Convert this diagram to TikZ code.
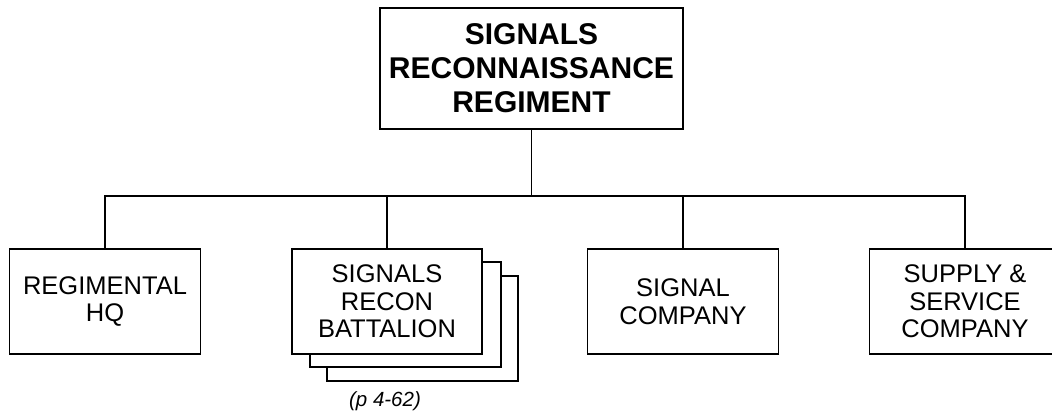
\documentclass[tikz,border=0pt]{standalone}
\usepackage{fontspec}
\setmainfont{Liberation Sans}
\begin{document}
\begin{tikzpicture}[x=1pt,y=-1pt,
  line width=1.5pt,
  unit/.style={draw, fill=white, inner sep=0pt, minimum width=191pt, minimum height=105pt,
    align=center, font=\fontsize{25.5}{27.5}\selectfont},
  topunit/.style={draw, fill=white, inner sep=0pt, minimum width=303pt, minimum height=121pt,
    align=center, font=\fontsize{30}{34}\selectfont\bfseries},
  note/.style={font=\fontsize{20.5}{24}\selectfont\itshape, inner sep=0pt}]
\clip (0,0) rectangle (1052,414);
\fill[white] (0,0) rectangle (1052,414);
\node[topunit] (top) at (531.5,68.5) {SIGNALS\\RECONNAISSANCE\\REGIMENT};
\node[unit] (hq) at (105,301.5) {REGIMENTAL\\HQ};
\node[unit, minimum width=191pt] (bat3) at (422.5,328.5) {};
\node[unit, minimum width=191pt] (bat2) at (405.5,314.5) {};
\node[unit, minimum width=190pt] (bat) at (387,301.5) {SIGNALS\\RECON\\BATTALION};
\node[unit] (sig) at (683,301.5) {SIGNAL\\COMPANY};
\node[unit] (sup) at (965,301.5) {SUPPLY \&\\SERVICE\\COMPANY};
\node[note] (pg) at (385,401) {(p 4-62)};
\coordinate (bus) at (0,196);
\draw (top.south) -- (top.south |- bus);
\draw (hq.north) -- (hq.north |- bus) -| (sup.north);
\draw (bat.north) -- (bat.north |- bus);
\draw (sig.north) -- (sig.north |- bus);
\end{tikzpicture}
\end{document}
